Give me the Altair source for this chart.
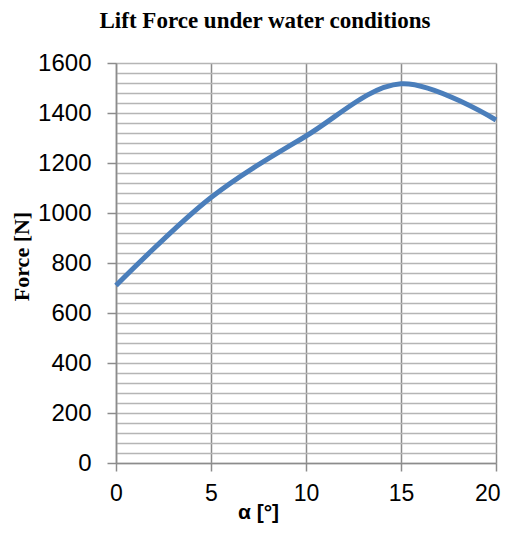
import altair as alt
import pandas as pd

alpha = [0, 5, 10, 15, 20]
force = [710, 1062, 1308, 1517, 1372]
x_ticks = [0, 5, 10, 15, 20]
y_grid = list(range(0, 1601, 40))

df = pd.DataFrame({"alpha": alpha, "force": force})

chart = alt.Chart(df).mark_line(
    interpolate="catmull-rom", color="#4A7EBB", strokeWidth=5
).encode(
    x=alt.X("alpha:Q", scale=alt.Scale(domain=[0, 20], nice=False),
            axis=alt.Axis(values=x_ticks, title="α [°]", grid=True,
                          gridColor="#8c8c8c", gridWidth=1.5,
                          domainColor="#8c8c8c", domainWidth=1.5,
                          tickColor="#8c8c8c", tickWidth=1.5, tickSize=8,
                          labelFont="Liberation Sans", labelFontSize=23,
                          labelColor="#000000", labelPadding=11, labelFlush=False,
                          labelAlign={"condition": {"test": "datum.value === 20", "value": "right"}, "value": "center"},
                          labelOffset={"condition": {"test": "datum.value === 20", "value": 4}, "value": 0},
                          titleFont="Liberation Sans", titleFontSize=21,
                          titleFontWeight="bold", titleColor="#000000",
                          titleX=142, titleY=55, titleBaseline="alphabetic")),
    y=alt.Y("force:Q", scale=alt.Scale(domain=[0, 1600], nice=False),
            axis=alt.Axis(values=y_grid, title="Force [N]", grid=True,
                          gridColor="#b5b5b5", gridWidth=1.3,
                          domainColor="#8c8c8c", domainWidth=1.5,
                          tickColor="#8c8c8c", tickWidth=1.5, tickSize=9,
                          tickOpacity={"condition": {"test": "datum.value % 200 === 0", "value": 1}, "value": 0},
                          labelExpr="datum.value % 200 === 0 ? datum.label : ''",
                          format="d",
                          labelFont="Liberation Sans", labelFontSize=24,
                          labelColor="#000000", labelPadding=16,
                          titleFont="Liberation Serif", titleFontSize=22,
                          titleFontWeight="bold", titleColor="#000000",
                          titleX=-88, titleY=193, titleBaseline="alphabetic")),
).properties(
    width=380, height=400,
    title=alt.TitleParams("Lift Force under water conditions",
                          font="Liberation Serif", fontSize=23, fontWeight="bold",
                          color="#000000", anchor="middle", dx=-41, offset=18),
    autosize=alt.AutoSizeParams(type="none"),
    padding={"left": 108, "top": 55, "right": 5, "bottom": 60},
).configure_view(stroke=None).configure(background="white")

chart.save("out.html", embed_options={"renderer": "svg", "actions": False})
